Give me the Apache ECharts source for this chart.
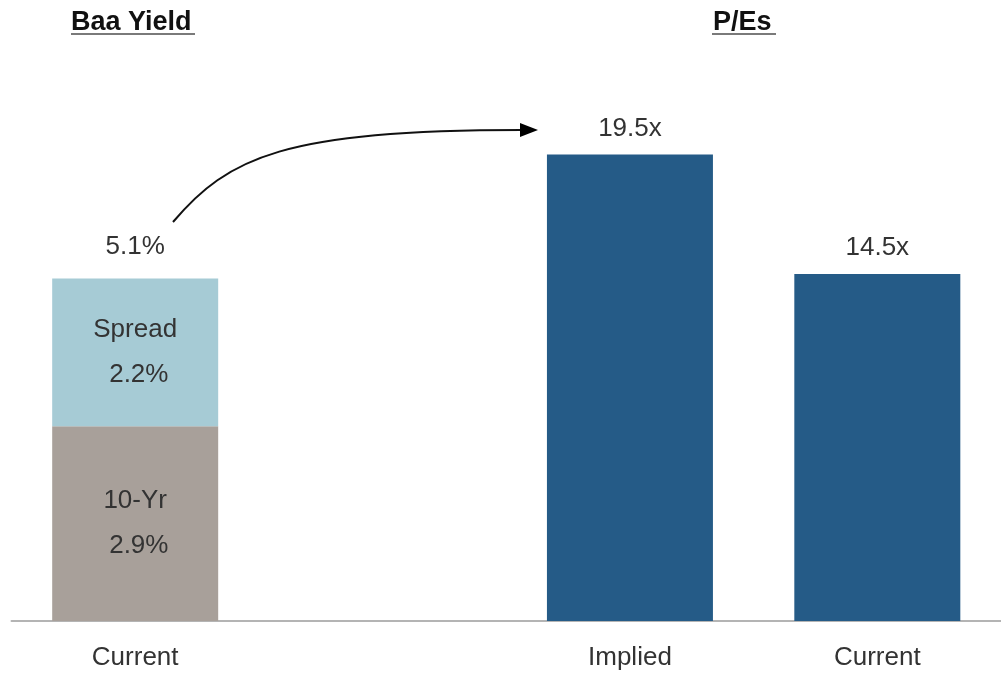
<!DOCTYPE html>
<html>
<head>
<meta charset="utf-8">
<script src="https://cdn.jsdelivr.net/npm/echarts@6/dist/echarts.min.js"></script>
<style>
html,body{margin:0;padding:0;background:#fff;}
#chart{width:1001px;height:673px;}
</style>
</head>
<body>
<div id="chart"></div>
<script>
// ---- data ----
var categories = ['Current', '', 'Implied', 'Current'];
var tenYrYield = [2.9, '-', '-', '-'];
var spreadYield = [2.2, '-', '-', '-'];
var baaTotal = [5.1, '-', '-', '-'];
var peRatios = ['-', '-', 19.5, 14.5];
var titles = ['Baa Yield', 'P/Es'];

var FONT = '"Liberation Sans", Arial, sans-serif';
var TXT = '#333333';

var chart = echarts.init(document.getElementById('chart'));
var option = {
  animation: false,
  backgroundColor: '#ffffff',
  grid: { left: 11.5, width: 991, top: 141, height: 480, containLabel: false },
  xAxis: {
    type: 'category',
    data: categories,
    axisLine: { show: true, lineStyle: { color: '#b4b4b4', width: 2 } },
    axisTick: { show: false },
    axisLabel: { color: TXT, fontFamily: FONT, fontSize: 26, margin: 24, interval: 0 },
    splitLine: { show: false }
  },
  yAxis: [
    { type: 'value', min: 0, max: 7.15, show: false, splitLine: { show: false } },
    { type: 'value', min: 0, max: 20.06, show: false, splitLine: { show: false } }
  ],
  series: [
    {
      name: '10-Yr', type: 'bar', stack: 'yield', yAxisIndex: 0,
      data: tenYrYield, barWidth: 166, barGap: '-100%',
      itemStyle: { color: '#a8a09a' },
      label: {
        show: true, position: 'inside', color: TXT, fontFamily: FONT, fontSize: 26, lineHeight: 45,
        formatter: function (p) { return '10-Yr\n ' + p.value.toFixed(1) + '%'; }
      }
    },
    {
      name: 'Spread', type: 'bar', stack: 'yield', yAxisIndex: 0,
      data: spreadYield, barWidth: 166, barGap: '-100%',
      itemStyle: { color: '#a6cbd5' },
      label: {
        show: true, position: 'inside', color: TXT, fontFamily: FONT, fontSize: 26, lineHeight: 45,
        formatter: function (p) { return 'Spread\n ' + p.value.toFixed(1) + '%'; }
      }
    },
    {
      name: 'P/E', type: 'bar', yAxisIndex: 1,
      data: peRatios, barWidth: 166, barGap: '-100%',
      itemStyle: { color: '#255b87' },
      label: {
        show: true, position: 'top', distance: 13, color: TXT, fontFamily: FONT, fontSize: 26,
        formatter: function (p) { return p.value.toFixed(1) + 'x'; }
      }
    },
    {
      name: 'Baa Total', type: 'scatter', yAxisIndex: 0,
      data: baaTotal, symbolSize: 0,
      itemStyle: { opacity: 1 },
      label: {
        show: true, position: 'top', distance: 19, color: TXT, fontFamily: FONT, fontSize: 26,
        formatter: function (p) { return p.value.toFixed(1) + '%'; }
      }
    }
  ],
  graphic: [
    { type: 'text', left: 71, top: 9, style: { text: titles[0], font: 'bold 27px ' + FONT, fill: '#111' } },
    { type: 'line', shape: { x1: 71, y1: 34, x2: 195, y2: 34 }, style: { stroke: '#7a7a7a', lineWidth: 2 } },
    { type: 'text', left: 713, top: 9, style: { text: titles[1], font: 'bold 27px ' + FONT, fill: '#111' } },
    { type: 'line', shape: { x1: 712, y1: 34, x2: 776, y2: 34 }, style: { stroke: '#7a7a7a', lineWidth: 2 } },
    { type: 'bezierCurve', shape: { x1: 173, y1: 222, cpx1: 228, cpy1: 157, cpx2: 285, cpy2: 130, x2: 522, y2: 130 },
      style: { stroke: '#111', lineWidth: 2, fill: null } },
    { type: 'polygon', shape: { points: [[520, 123], [538, 130], [520, 137]] }, style: { fill: '#000' } }
  ]
};
chart.setOption(option);
</script>
</body>
</html>
